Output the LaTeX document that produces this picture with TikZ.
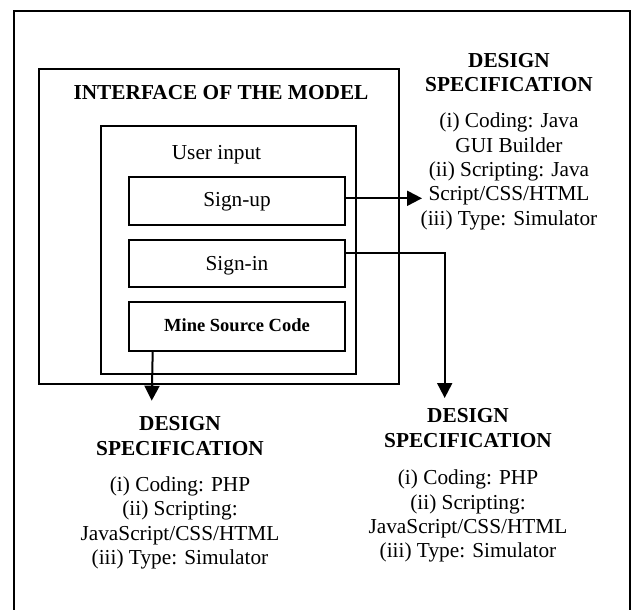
\documentclass[tikz,border=0pt]{standalone}
\usepackage{fontspec}
\setmainfont{Liberation Serif}
\usetikzlibrary{arrows.meta}
\begin{document}
\begin{tikzpicture}[x=1pt,y=-1pt,
  frameline/.style={line width=2pt},
  boxnode/.style={draw,line width=2pt,inner sep=0pt,anchor=center},
  itembox/.style={boxnode,minimum width=216.6pt,minimum height=48pt,
    font=\fontsize{21.3}{24.4}\selectfont,text height=14pt,text depth=1.4pt},
  plaintext/.style={inner sep=0pt,font=\fontsize{21.3}{24.4}\selectfont},
  specblock/.style={inner sep=0pt,anchor=north,align=center,
    font=\fontsize{21.3}{24.4}\selectfont},
  conn/.style={line width=2pt,-{Triangle[length=15pt,width=15pt]}}
]
\useasboundingbox (0,0) rectangle (633,610);
% outer frame (bottom edge lies outside the picture)
\draw[frameline] (14,611) -- (14,11.5) -- (629.5,11.5) -- (629.5,611);

% interface box
\node[boxnode,minimum width=360pt,minimum height=314pt] (iface) at (218.5,226.5) {};
\node[plaintext,anchor=base,font=\fontsize{21.3}{24.4}\selectfont\bfseries] (title) at (221,99.3) {INTERFACE OF THE MODEL};

% user input box
\node[boxnode,minimum width=255.6pt,minimum height=248pt] (inner) at (228.5,250) {};
\node[plaintext,anchor=base] (uinput) at (216.5,160) {User input};

\node[itembox] (signup) at (237,200.7) {Sign-up};
\node[itembox,minimum height=47.2pt,text height=15pt,text depth=0.2pt] (signin) at (237,263.1) {Sign-in};
\node[itembox,minimum height=48.4pt,font=\fontsize{18.5}{21}\selectfont\bfseries,text height=11pt,text depth=2pt] (mine) at (237,326.5) {Mine Source Code};

% design specifications
\node[specblock] (specA) at (509,53) {\textbf{DESIGN}\\\textbf{SPECIFICATION}\\[11.6pt]
(i) Coding: Java\\GUI Builder\\(ii) Scripting: Java\\Script/CSS/HTML\\(iii) Type: Simulator};
\node[specblock] (specB) at (180,416.5) {\textbf{DESIGN}\\\textbf{SPECIFICATION}\\[11.6pt]
(i) Coding: PHP\\(ii) Scripting:\\JavaScript/CSS/HTML\\(iii) Type: Simulator};
\node[specblock] (specC) at (468,408.5) {\textbf{DESIGN}\\\textbf{SPECIFICATION}\\[13pt]
(i) Coding: PHP\\(ii) Scripting:\\JavaScript/CSS/HTML\\(iii) Type: Simulator};

% connectors
\coordinate (tipA) at (422,198.3);
\coordinate (bendB) at (444.7,253);
\coordinate (tipB) at (444.7,398);
\coordinate (tipC) at (151.7,400.7);
\draw[conn] (signup.east |- tipA) -- (tipA);
\draw[conn] (signin.east |- bendB) -- (bendB) -- (tipB);
\draw[conn] ([xshift=-84.3pt]mine.south) -- (tipC);
\end{tikzpicture}
\end{document}
